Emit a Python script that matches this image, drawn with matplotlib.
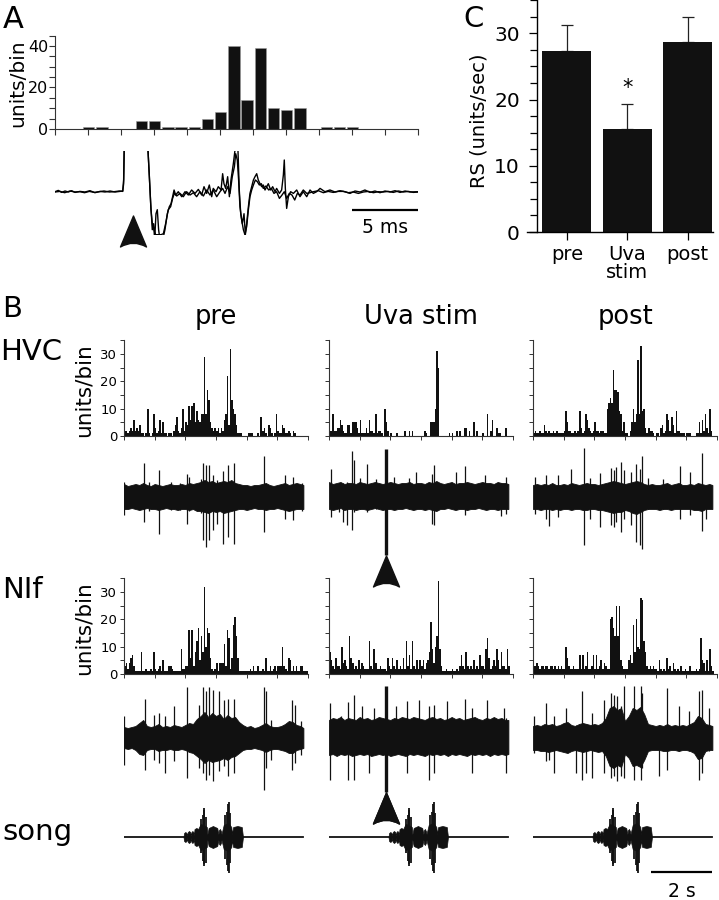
import numpy as np
import matplotlib
matplotlib.use("Agg")
import matplotlib.pyplot as plt
from matplotlib.path import Path
from matplotlib.ticker import MultipleLocator

plt.rcParams['font.family'] = ['DejaVu Sans']

W, H = 719, 900
INK = '#111111'

# ---------------- Panel A: histogram (1 ms bins) and two sweeps ----------------
a_counts = [0, 0, 1, 1, 0, 0, 4, 4, 1, 1, 1, 5, 8, 40, 14, 39, 10, 9, 10, 0,
            1, 1, 1, 0, 0, 0, 0, 0]

a_sweep1_ms = [0, 0.25, 0.5, 0.76, 1.01, 1.26, 1.52, 1.89, 2.27, 2.65, 3.03, 3.41, 3.79, 4.17,
               4.55, 4.92, 5.13, 5.2, 5.25, 6.0, 7.02, 7.12, 7.25, 7.37, 7.47, 7.55, 7.65,
               7.75, 7.85, 7.95, 8.16, 8.33, 8.51, 8.66, 8.79, 8.91, 9.02, 9.14, 9.34, 9.6,
               9.85, 10.1, 10.35, 10.61, 10.86, 11.11, 11.29, 11.49, 11.69, 11.87, 11.99,
               12.2, 12.37, 12.58, 12.7, 12.8, 12.93, 13.08, 13.21, 13.33, 13.51, 13.64,
               13.76, 13.86, 13.96, 14.07, 14.19, 14.32, 14.42, 14.52, 14.65, 14.77, 14.9,
               15.03, 15.15, 15.28, 15.4, 15.53, 15.66, 15.78, 15.91, 16.04, 16.16, 16.34,
               16.49, 16.67, 16.79, 17.0, 17.17, 17.3, 17.37, 17.45, 17.55, 17.68, 17.85,
               18.06, 18.31, 18.56, 18.81, 19.07, 19.32, 19.57, 19.82, 20.08, 20.45, 20.83,
               21.21, 21.59, 21.97, 22.35, 22.73, 23.11, 23.48, 23.86, 24.24, 24.62, 25.0,
               25.38, 25.76, 26.14, 26.52, 26.89, 27.53]
a_sweep1_v = [0, 1.3, -0.7, 0.7, -0.3, 1, -0.7, 0.3, -0.3, 1, -1, 0.3, -0.3, 0.7,
              -0.3, 0.3, 0.7, 12, 48, np.nan, 48, 22, -12, -38, -32, -48, -22,
              -18, -38, -48, -48, -38, -22, -15, -12, -5, 1.7, -3.3, 0, -5,
              0, -3.3, 1.7, -1.7, 2.3, -3.3, 5, -1.7, 6.7, -5, 3.3,
              0, 5, 1.7, 18, 8, 3.3, 15, -5, 11.7, 28, 42,
              48, 42, 1.7, -22, -32, -22, -43, -32, -15, -1.7, 5,
              11.7, 15, 18, 11.7, 8, 5, 6.7, 1.7, 5, 8, 1.7,
              5, 0, 3.3, -1.7, 1.7, 16.7, 31.7, 3.3, -16.7, -5, 0,
              -1.7, 1.7, -5, 0, -5, 1.7, -1.7, 0, 3.3, 0, 1.7,
              -0.3, 1, 0, -1.7, 0.7, -0.3, 1.7, -0.7, 0.7, -1, 0.7,
              -0.3, 1, -0.7, 0.7, -0.3, 0]

a_sweep2_ms = [0, 0.38, 0.73, 1.14, 1.49, 1.89, 2.24, 2.6, 2.98, 3.36, 3.71, 4.12, 4.47, 4.87,
               5.13, 5.2, 5.25, 6.0, 7.02, 7.15, 7.27, 7.4, 7.5, 7.62, 7.83, 8.03, 8.21,
               8.38, 8.58, 8.76, 8.91, 9.04, 9.22, 9.47, 9.72, 9.97, 10.23, 10.48, 10.73,
               10.98, 11.24, 11.49, 11.74, 11.99, 12.25, 12.5, 12.7, 12.88, 13.08, 13.26,
               13.43, 13.59, 13.69, 13.81, 13.91, 14.01, 14.14, 14.27, 14.39, 14.52, 14.65,
               14.77, 14.9, 15.03, 15.18, 15.33, 15.48, 15.63, 15.78, 15.98, 16.19, 16.39,
               16.59, 16.79, 17.0, 17.2, 17.37, 17.55, 17.75, 17.95, 18.16, 18.36, 18.56,
               18.81, 19.07, 19.32, 19.57, 19.95, 20.33, 20.7, 21.08, 21.46, 21.84, 22.22,
               22.6, 22.98, 23.36, 23.74, 24.12, 24.49, 24.87, 25.25, 25.63, 26.01, 26.39,
               26.77, 27.15, 27.53]
a_sweep2_v = [-0.3, 0.3, -1, 0.7, -0.3, 0, -1, 0.3, -0.7, 0, 0.7, -0.3, 0, 0.7,
              0.3, 8, 48, np.nan, 48, 15, -18, -35, -38, -43, -43, -43, -42,
              -32, -18, -15, -6.7, -1.7, -4.3, -1.7, -5, 0, -3.3, -1, -5,
              0, -4.3, 1.7, -3.3, 1.7, -5, 0, 3.3, -1.7, 5, -1.7,
              15, 25, 38, 31.7, 11.7, -15, -28, -38, -43, -35, -18,
              -5, 1.7, 6.7, 11.7, 10, 6.7, 8, 3.3, 5.7, 1.7, 3.3,
              -1.7, 0, -6.7, -3.3, 0, -6.7, -1.7, -3.3, -8.3, -1.7, -3.3,
              1.7, -1.7, -1, 0, 1, -1, 0.3, -0.7, 0.3, 0.3, -1,
              -0.3, -1.7, -0.3, 0.3, -1, 0, -0.3, 0.3, -0.7, 0.7, -0.3,
              0.3, -0.7, -0.3]
a_stim_ms = 5.9

# ---------------- Panel C: response strength ----------------
c_labels = ['pre', 'Uva\nstim', 'post']
c_mean = [27.3, 15.5, 28.7]
c_err = [4.0, 3.9, 3.8]

# ---------------- Panel B: PSTHs (50 ms bins, 0-6 s) ----------------
hvc_pre = [2, 2, 1, 2, 3, 2, 6, 2, 3, 2, 4, 1, 1, 0, 1, 10, 1, 0, 1, 8,
           3, 1, 2, 6, 1, 5, 1, 1, 0, 1, 1, 0, 2, 4, 7, 2, 1, 3, 10, 2,
           5, 4, 11, 6, 11, 12, 5, 9, 6, 5, 8, 8, 29, 8, 17, 13, 5, 3, 2, 3,
           2, 3, 1, 3, 2, 6, 8, 22, 4, 32, 13, 10, 8, 4, 1, 1, 1, 0, 0, 0,
           0, 1, 1, 1, 0, 0, 0, 1, 0, 7, 2, 3, 1, 0, 4, 3, 1, 0, 1, 8,
           2, 1, 1, 4, 3, 1, 1, 2, 1, 0, 2, 1, 0, 0, 0, 0, 0, 0, 0, 0]
hvc_uva = [2, 2, 8, 2, 2, 3, 3, 6, 4, 2, 1, 1, 4, 4, 1, 5, 5, 5, 3, 1,
           6, 1, 1, 1, 3, 1, 6, 2, 2, 1, 8, 1, 2, 2, 1, 0, 10, 5, 2, 0,
           1, 0, 0, 0, 1, 0, 0, 0, 0, 2, 0, 0, 2, 0, 2, 0, 0, 0, 0, 0,
           0, 0, 2, 1, 0, 0, 5, 5, 5, 10, 31, 25, 0, 0, 0, 0, 0, 0, 1, 0,
           1, 0, 0, 2, 0, 2, 0, 0, 3, 3, 0, 2, 0, 0, 5, 0, 2, 0, 0, 0,
           1, 0, 0, 8, 0, 2, 6, 0, 0, 3, 1, 1, 0, 0, 0, 3, 0, 0, 0, 0]
hvc_post = [1, 2, 1, 1, 2, 1, 1, 4, 2, 1, 2, 1, 1, 2, 1, 2, 1, 1, 1, 1,
            2, 9, 5, 2, 2, 1, 1, 2, 1, 2, 9, 3, 1, 2, 8, 6, 3, 2, 1, 2,
            5, 2, 2, 1, 2, 2, 1, 1, 10, 12, 14, 12, 24, 17, 17, 16, 9, 8, 2, 5,
            1, 1, 0, 2, 5, 10, 5, 8, 28, 8, 33, 9, 10, 3, 1, 3, 2, 2, 1, 0,
            1, 1, 0, 3, 4, 1, 2, 8, 6, 2, 7, 4, 1, 9, 2, 2, 1, 1, 1, 0,
            1, 1, 1, 0, 0, 0, 1, 1, 5, 1, 6, 2, 8, 3, 1, 10, 2, 0, 0, 0]
nif_pre = [3, 4, 2, 4, 6, 7, 3, 1, 1, 1, 1, 8, 1, 1, 2, 1, 1, 2, 1, 8,
           2, 1, 2, 3, 1, 5, 1, 1, 1, 3, 3, 2, 1, 1, 1, 1, 1, 9, 2, 2,
           3, 3, 16, 6, 16, 3, 8, 12, 17, 5, 14, 8, 32, 10, 17, 15, 6, 2, 1, 2,
           4, 1, 4, 4, 4, 11, 3, 16, 13, 2, 6, 18, 21, 14, 6, 1, 1, 1, 1, 1,
           1, 1, 2, 1, 3, 1, 1, 3, 1, 1, 2, 1, 6, 1, 1, 3, 1, 2, 3, 1,
           3, 3, 3, 10, 3, 2, 1, 6, 5, 1, 3, 1, 3, 1, 1, 3, 3, 1, 1, 1]
nif_uva = [8, 5, 3, 2, 6, 3, 3, 2, 10, 4, 5, 3, 2, 14, 6, 4, 2, 3, 2, 5,
           2, 4, 3, 2, 2, 2, 12, 3, 2, 9, 4, 2, 2, 3, 2, 2, 2, 1, 6, 3,
           2, 6, 3, 2, 5, 2, 3, 2, 6, 2, 12, 3, 7, 2, 12, 3, 2, 5, 2, 5,
           3, 5, 2, 4, 5, 8, 19, 9, 4, 10, 14, 34, 9, 3, 1, 1, 2, 1, 1, 1,
           2, 1, 1, 2, 1, 3, 7, 3, 2, 8, 3, 2, 3, 2, 5, 2, 3, 2, 7, 3,
           3, 2, 9, 13, 6, 2, 3, 5, 3, 9, 5, 2, 8, 3, 3, 2, 9, 3, 0, 0]
nif_post = [3, 3, 4, 3, 2, 3, 3, 2, 3, 3, 2, 3, 3, 2, 3, 2, 3, 2, 3, 2,
            2, 10, 6, 3, 2, 2, 3, 2, 2, 2, 7, 2, 7, 2, 3, 8, 2, 2, 3, 7,
            2, 7, 2, 3, 5, 2, 4, 3, 2, 2, 20, 21, 17, 14, 25, 14, 25, 5, 3, 2,
            2, 2, 5, 7, 4, 18, 8, 20, 10, 9, 28, 27, 12, 8, 3, 2, 3, 2, 3, 2,
            2, 1, 5, 2, 1, 2, 1, 6, 2, 3, 1, 4, 2, 1, 2, 1, 3, 1, 1, 2,
            1, 1, 3, 1, 1, 1, 2, 1, 2, 13, 5, 4, 1, 5, 1, 9, 3, 1, 0, 0]

# raw multiunit traces: noise band envelope (every 0.125 s, last point 5.85 s) and large spikes
hvc_pre_hi = [13, 11, 12, 13, 12, 14, 12, 11, 13, 12, 11, 12, 13, 12, 12, 13, 12, 14, 13, 14, 15, 17, 15, 16,
              14, 15, 16, 15, 17, 14, 13, 12, 12, 11, 12, 12, 13, 14, 12, 11, 12, 13, 14, 12, 13, 14, 13, 12]
hvc_pre_lo = [12, 12, 11, 12, 13, 12, 11, 12, 12, 13, 12, 11, 12, 12, 13, 12, 12, 13, 12, 14, 14, 15, 16, 14,
              15, 14, 16, 15, 14, 13, 12, 12, 13, 12, 11, 12, 12, 13, 12, 12, 11, 12, 13, 14, 13, 12, 12, 12]
hvc_uva_hi = [15, 13, 14, 15, 13, 14, 14, 13, 15, 14, 13, 14, 15, 14, 13, 14, 15, 14, 13, 14, 14, 15, 13, 14,
              14, 13, 15, 14, 16, 14, 13, 14, 15, 13, 14, 14, 15, 14, 13, 14, 15, 14, 14, 13, 15, 14, 14, 13]
hvc_uva_lo = [12, 13, 12, 11, 13, 12, 12, 13, 12, 12, 13, 12, 11, 12, 13, 12, 12, 13, 12, 12, 11, 12, 13, 12,
              12, 13, 12, 13, 14, 12, 12, 11, 12, 13, 12, 12, 13, 12, 12, 11, 12, 13, 12, 12, 13, 12, 12, 12]
hvc_post_hi = [12, 13, 12, 13, 12, 14, 12, 12, 13, 12, 14, 13, 12, 13, 14, 13, 13, 12, 13, 14, 15, 16, 15, 14,
               13, 14, 15, 16, 15, 13, 12, 13, 12, 12, 13, 14, 12, 13, 14, 12, 12, 13, 12, 14, 13, 12, 13, 12]
hvc_post_lo = [12, 12, 13, 12, 12, 13, 12, 13, 12, 12, 13, 12, 12, 13, 13, 12, 12, 13, 13, 14, 15, 16, 15, 15,
               13, 14, 16, 17, 15, 13, 12, 12, 12, 13, 12, 12, 13, 12, 12, 12, 12, 12, 13, 13, 14, 12, 12, 12]
nif_pre_hi = [11, 10, 11, 12, 15, 18, 12, 11, 12, 14, 11, 12, 11, 13, 12, 11, 13, 15, 14, 19, 22, 26, 21, 25,
              22, 24, 19, 23, 20, 21, 16, 13, 11, 12, 10, 11, 13, 15, 12, 11, 11, 12, 14, 17, 16, 13, 12, 10]
nif_pre_lo = [10, 11, 10, 12, 16, 17, 12, 11, 11, 13, 12, 12, 11, 12, 12, 11, 12, 14, 15, 18, 21, 25, 22, 24,
              23, 22, 20, 22, 19, 18, 15, 12, 11, 11, 10, 11, 12, 14, 12, 11, 11, 12, 13, 15, 15, 12, 11, 10]
nif_uva_hi = [18, 20, 19, 21, 18, 20, 19, 18, 21, 19, 20, 18, 19, 21, 20, 19, 18, 20, 19, 21, 20, 19, 21, 20,
              19, 18, 20, 21, 19, 20, 18, 19, 21, 19, 20, 18, 19, 20, 21, 19, 18, 20, 19, 21, 19, 20, 18, 18]
nif_uva_lo = [17, 16, 18, 16, 17, 16, 18, 17, 16, 17, 16, 18, 17, 16, 17, 16, 18, 17, 16, 17, 18, 16, 17, 16,
              17, 18, 16, 17, 16, 17, 16, 18, 16, 17, 16, 17, 18, 16, 17, 16, 17, 16, 18, 16, 17, 16, 17, 16]
nif_post_hi = [12, 13, 12, 14, 13, 14, 12, 13, 15, 16, 13, 12, 14, 15, 14, 13, 14, 13, 15, 20, 30, 32, 28, 30,
               17, 22, 30, 28, 31, 24, 14, 13, 12, 13, 12, 14, 12, 13, 12, 13, 12, 14, 16, 22, 20, 14, 13, 12]
nif_post_lo = [12, 12, 13, 13, 14, 13, 12, 13, 14, 15, 13, 12, 13, 14, 13, 12, 13, 14, 13, 18, 28, 30, 27, 29,
               16, 20, 28, 27, 29, 22, 13, 12, 12, 12, 13, 13, 12, 12, 13, 12, 12, 13, 15, 21, 20, 13, 12, 12]

hvc_pre_spk_t = [0.0, 0.65, 0.82, 1.14, 1.52, 1.82, 2.07, 2.12, 2.5, 2.59, 2.68, 2.77, 2.9, 3.04, 3.23, 3.39, 3.59, 4.57, 5.24, 5.52, 5.8]
hvc_pre_spk_up = [15, 34, 15, 27, 15, 14, 23, 20, 18, 34, 32, 32, 22, 17, 26, 32, 34, 41, 22, 20, 14]
hvc_pre_spk_dn = [18, 25, 14, 37, 13, 13, 27, 14, 16, 43, 50, 43, 33, 27, 47, 40, 47, 35, 22, 23, 14]
hvc_uva_spk_t = [0.05, 0.33, 0.46, 0.6, 0.74, 0.82, 1.0, 1.25, 1.52, 2.12, 2.6, 2.83, 3.37, 3.42, 4.13, 4.42, 5.1, 5.6, 5.76]
hvc_uva_spk_up = [28, 14, 14, 15, 46, 37, 19, 33, 18, 20, 19, 25, 23, 32, 25, 31, 22, 14, 20]
hvc_uva_spk_dn = [20, 15, 25, 28, 33, 15, 12, 15, 12, 12, 12, 12, 27, 28, 12, 18, 12, 19, 17]
hvc_post_spk_t = [0.05, 0.43, 0.52, 0.82, 1.25, 1.66, 1.85, 2.17, 2.55, 2.63, 2.72, 2.88, 2.96, 3.21, 3.37, 3.48, 3.55, 3.75, 4.24, 4.78, 5.11, 5.52, 5.65]
hvc_post_spk_up = [20, 22, 12, 22, 28, 49, 19, 24, 29, 27, 30, 35, 27, 25, 33, 28, 41, 19, 18, 31, 25, 44, 12]
hvc_post_spk_dn = [17, 22, 29, 20, 12, 48, 22, 30, 28, 30, 25, 35, 22, 28, 45, 48, 52, 12, 12, 22, 18, 34, 22]
nif_pre_spk_t = [0.0, 0.67, 0.98, 1.14, 1.34, 1.63, 2.07, 2.45, 2.59, 2.68, 2.77, 2.9, 3.1, 3.26, 3.4, 3.59, 4.57, 4.62, 4.78, 5.47, 5.58, 5.76]
nif_pre_spk_up = [22, 39, 23, 25, 22, 32, 51, 33, 51, 47, 51, 48, 47, 38, 39, 39, 51, 47, 18, 38, 33, 17]
nif_pre_spk_dn = [27, 32, 22, 25, 35, 23, 40, 30, 35, 42, 37, 43, 33, 28, 38, 35, 52, 30, 22, 32, 25, 17]
nif_uva_spk_t = [0.03, 0.38, 0.63, 0.82, 1.09, 1.3, 1.47, 2.17, 2.55, 2.93, 3.26, 3.42, 3.86, 4.42, 4.67, 5.16, 5.7, 5.78]
nif_uva_spk_up = [35, 22, 36, 43, 32, 18, 30, 32, 37, 38, 32, 33, 37, 39, 30, 38, 30, 20]
nif_uva_spk_dn = [42, 16, 42, 42, 16, 35, 16, 16, 35, 16, 42, 35, 16, 16, 35, 16, 16, 35]
nif_post_spk_t = [0.03, 0.41, 0.52, 0.68, 1.07, 1.39, 1.61, 1.72, 1.93, 2.32, 2.53, 2.64, 2.75, 2.86, 2.97, 3.29, 3.51, 3.57, 4.11, 4.38, 4.76, 5.09, 5.41, 5.5, 5.74]
nif_post_spk_up = [22, 35, 13, 22, 30, 13, 47, 14, 25, 38, 45, 43, 42, 32, 52, 52, 52, 45, 13, 50, 32, 27, 47, 48, 30]
nif_post_spk_dn = [15, 23, 22, 35, 13, 35, 42, 35, 40, 35, 40, 38, 43, 38, 40, 42, 42, 30, 38, 32, 13, 13, 42, 35, 13]

# song amplitude envelope and loud peaks
song_t = [1.94, 1.96, 2.0, 2.04, 2.06, 2.08, 2.12, 2.16, 2.18, 2.2, 2.23, 2.26, 2.28, 2.3, 2.36, 2.42,
          2.45, 2.5, 2.6, 2.7, 2.72, 2.76, 2.9, 3.04, 3.08, 3.1, 3.13, 3.16, 3.18, 3.25, 3.4, 3.5,
          3.52, 3.56, 3.7, 3.84, 3.88]
song_amp = [0, 4, 5, 4, 1, 5, 6, 5, 1, 5, 6, 5, 2, 8, 9, 8,
            10, 13, 12, 10, 3, 9, 11, 9, 3, 7, 8, 6, 3, 12, 14, 10,
            3, 10, 11, 10, 0]
song_pk_t = [2.5, 2.56, 2.6, 2.62, 2.66, 3.3, 3.36, 3.4, 3.42, 3.46]
song_pk_up = [18, 22, 27, 29, 20, 22, 25, 33, 35, 24]
song_pk_dn = [16, 24, 27, 29, 26, 22, 28, 34, 36, 26]
trace_len = 5.85
uva_stim_t = 1.85

band_t = np.append(np.arange(47) * 0.125, trace_len)

fig = plt.figure(figsize=(W / 100, H / 100), dpi=100)


def box(x0, y0, x1, y1):
    ax = fig.add_axes([x0 / W, 1 - y1 / H, (x1 - x0) / W, (y1 - y0) / H])
    ax.patch.set_visible(False)
    return ax


def ftext(x, y, s, **kw):
    fig.text(x / W, 1 - y / H, s, **kw)


arrow_marker = Path([(0, 15.5), (13, -15.5), (0, -8), (-13, -15.5), (0, 15.5)],
                    [Path.MOVETO, Path.LINETO, Path.CURVE3, Path.CURVE3, Path.CLOSEPOLY])


def style_hist(ax):
    for s in ['top', 'right']:
        ax.spines[s].set_visible(False)
    for s in ['left', 'bottom']:
        ax.spines[s].set_linewidth(0.8)
        ax.spines[s].set_color('#333333')


# ---- A ----
axA = box(55, 35.6, 418, 129)
axA.bar(np.arange(len(a_counts)) + 0.55, a_counts, width=0.86, color=INK,
        edgecolor='#999999', linewidth=0.4)
axA.set_xlim(0, 27.5)
axA.set_ylim(0, 45)
style_hist(axA)
axA.xaxis.set_major_locator(MultipleLocator(2.5))
axA.yaxis.set_major_locator(MultipleLocator(20))
axA.yaxis.set_minor_locator(MultipleLocator(5))
axA.tick_params(which='both', direction='out', length=4, width=0.8, color='#333333')
axA.tick_params(axis='y', labelsize=11.5, pad=1)
axA.tick_params(axis='x', labelbottom=False)
ftext(18, 83, 'units/bin', rotation=90, ha='center', va='center', fontsize=14.5)

axAt = box(55, 151, 418, 235)
axAt.plot(a_sweep1_ms, a_sweep1_v, color='black', lw=1.0)
axAt.plot(a_sweep2_ms, a_sweep2_v, color='black', lw=1.0)
axAt.set_xlim(0, 27.5)
axAt.set_ylim(-43.3, 40.7)
axAt.axis('off')
axAt.plot([a_stim_ms], [-39.8], marker=arrow_marker, markersize=22.3, color=INK, clip_on=False)
axAt.plot([22.5, 27.5], [-18, -18], color='black', lw=1.6, solid_capstyle='butt')
axAt.text(25, -41.3, '5 ms', ha='center', va='baseline', fontsize=13.5)
ftext(3, 28, 'A', fontsize=22, va='baseline')

# ---- C ----
axC = box(527, 0.3, 713, 232)
xc = np.arange(len(c_mean))
axC.bar(xc, c_mean, width=0.81, color=INK, zorder=2)
axC.errorbar(xc, c_mean, yerr=[np.zeros(len(c_err)), c_err], fmt='none', ecolor='#222222',
             elinewidth=0.9, capsize=4.5, capthick=0.9, zorder=1)
axC.set_xlim(-0.66, 2.42)
axC.set_ylim(0, 35)
for s in ['top', 'right']:
    axC.spines[s].set_visible(False)
axC.spines['left'].set_position(('data', -0.5))
axC.spines['left'].set_linewidth(1.0)
axC.spines['bottom'].set_linewidth(1.0)
axC.yaxis.set_major_locator(MultipleLocator(10))
axC.yaxis.set_minor_locator(MultipleLocator(2.5))
axC.set_xticks(xc)
axC.set_xticklabels(c_labels, fontsize=14, linespacing=1.0)
axC.tick_params(which='both', direction='out', width=0.9)
axC.tick_params(axis='y', which='major', length=6, labelsize=14.5, pad=6)
axC.tick_params(axis='y', which='minor', length=5)
axC.tick_params(axis='x', length=6, pad=3)
axC.text(xc[1], c_mean[1] + c_err[1] + 2.4, '*', ha='center', va='center', fontsize=15)
ftext(479, 121, 'RS (units/sec)', rotation=90, ha='center', va='center', fontsize=14)
ftext(463, 27, 'C', fontsize=21, va='baseline')

# ---- B ----
col_x = [124, 329, 533]
col_titles = ['pre', 'Uva stim', 'post']
psth = {'HVC': [hvc_pre, hvc_uva, hvc_post], 'NIf': [nif_pre, nif_uva, nif_post]}
bands = {'HVC': [(hvc_pre_hi, hvc_pre_lo), (hvc_uva_hi, hvc_uva_lo), (hvc_post_hi, hvc_post_lo)],
         'NIf': [(nif_pre_hi, nif_pre_lo), (nif_uva_hi, nif_uva_lo), (nif_post_hi, nif_post_lo)]}
spikes = {'HVC': [(hvc_pre_spk_t, hvc_pre_spk_up, hvc_pre_spk_dn),
                  (hvc_uva_spk_t, hvc_uva_spk_up, hvc_uva_spk_dn),
                  (hvc_post_spk_t, hvc_post_spk_up, hvc_post_spk_dn)],
          'NIf': [(nif_pre_spk_t, nif_pre_spk_up, nif_pre_spk_dn),
                  (nif_uva_spk_t, nif_uva_spk_up, nif_uva_spk_dn),
                  (nif_post_spk_t, nif_post_spk_up, nif_post_spk_dn)]}
# row geometry in pixels: hist zero line, trace centre, trace box, stim line extent
rows = {'HVC': dict(zero=436, top=340.4, tc=497, ty0=440, ty1=556, stim=(48, -58)),
        'NIf': dict(zero=674, top=578.4, tc=738, ty0=680, ty1=800, stim=(52, -54))}
bin_c = np.arange(120) * 0.05 + 0.025

for region, g in rows.items():
    for j, x0 in enumerate(col_x):
        ax = box(x0, g['top'], x0 + 184, g['zero'])
        ax.bar(bin_c, psth[region][j], width=0.05, color=INK, linewidth=0)
        ax.set_xlim(0, 6)
        ax.set_ylim(0, 35)
        style_hist(ax)
        ax.xaxis.set_major_locator(MultipleLocator(1))
        ax.yaxis.set_major_locator(MultipleLocator(10))
        ax.yaxis.set_minor_locator(MultipleLocator(5))
        ax.tick_params(which='both', direction='out', length=3, width=0.7, color='#333333')
        ax.tick_params(axis='y', labelsize=9.5, pad=2)
        ax.tick_params(axis='x', labelbottom=False)
        if j > 0:
            ax.tick_params(axis='y', labelleft=False)

        axt = box(x0, g['ty0'], x0 + 184, g['ty1'])
        hi, lo = bands[region][j]
        axt.fill_between(band_t, -np.array(lo), hi, color=INK, lw=0.6, edgecolor=INK)
        st, su, sd = spikes[region][j]
        axt.vlines(st, -np.array(sd), su, color=INK, lw=0.9)
        axt.set_xlim(0, 6)
        axt.set_ylim(-(g['ty1'] - g['tc']), g['tc'] - g['ty0'])
        axt.axis('off')
        if j == 1:
            axt.vlines([uva_stim_t], g['stim'][1], g['stim'][0], color=INK, lw=2.4, clip_on=False)
            axt.plot([uva_stim_t], [g['stim'][1] - 15.5], marker=arrow_marker,
                     markersize=22.3, color=INK, clip_on=False)
    ftext(83.5, (g['top'] + g['zero']) / 2 + 2, 'units/bin', rotation=90,
          ha='center', va='center', fontsize=15.5)

# song rows
for j, x0 in enumerate(col_x):
    axs = box(x0, 795, x0 + 184, 880)
    axs.plot([0, trace_len], [0, 0], color=INK, lw=1.3)
    axs.fill_between(song_t, -np.array(song_amp), song_amp, color=INK, lw=0.5, edgecolor=INK)
    axs.vlines(song_pk_t, -np.array(song_pk_dn), song_pk_up, color=INK, lw=1.3)
    axs.set_xlim(0, 6)
    axs.set_ylim(-43, 42)
    axs.axis('off')
    if j == 1:
        axs.plot([uva_stim_t], [45 - 15.5], marker=arrow_marker, markersize=22.3,
                 color=INK, clip_on=False)
    if j == 2:
        axs.plot([trace_len - 2, trace_len], [-35, -35], color='black', lw=1.6,
                 solid_capstyle='butt')
        axs.text(trace_len - 1, -60, '2 s', ha='center', va='baseline', fontsize=13.5)

for x0, title in zip(col_x, col_titles):
    ftext(x0 + 92, 324, title, ha='center', va='baseline', fontsize=18.5)

ftext(2, 317, 'B', fontsize=21, va='baseline')
ftext(0, 360, 'HVC', fontsize=21, va='baseline')
ftext(2, 598, 'NIf', fontsize=21, va='baseline')
ftext(2, 840, 'song', fontsize=21, va='baseline')

fig.savefig('out.png', dpi=100, facecolor='white')
